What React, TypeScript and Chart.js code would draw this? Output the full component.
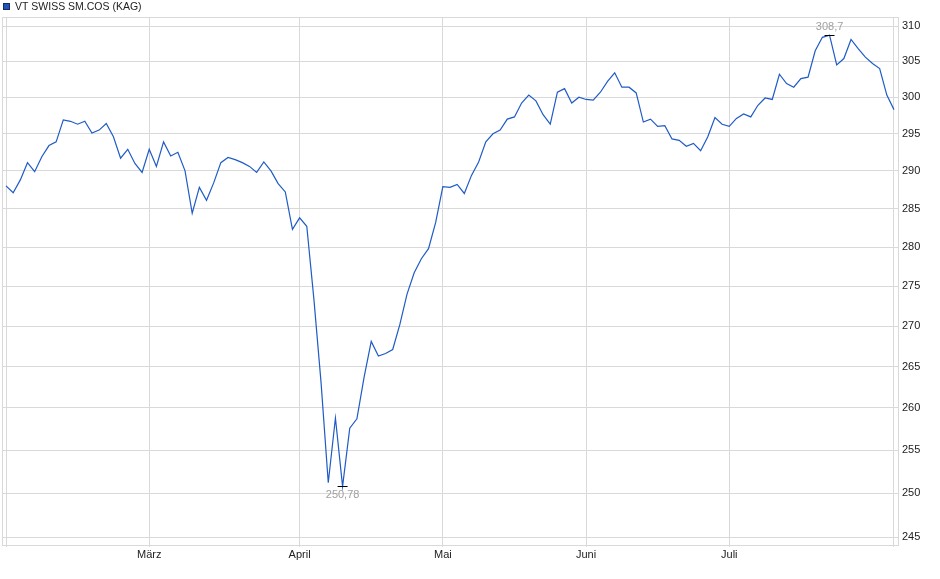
import { useEffect, useRef } from 'react';
import { Chart, registerables } from 'chart.js';

Chart.register(...registerables);

// 数据
const seriesName = 'VT SWISS SM.COS (KAG)';
const values = [
  288.0, 287.1, 288.8, 291.1, 289.9, 291.9, 293.4, 293.9, 296.9, 296.7,
  296.3, 296.7, 295.1, 295.5, 296.4, 294.6, 291.7, 292.9, 291.0, 289.8,
  292.9, 290.6, 293.9, 292.0, 292.5, 290.0, 284.4, 287.8, 286.1, 288.4,
  291.1, 291.8, 291.5, 291.1, 290.6, 289.8, 291.2, 290.0, 288.3, 287.2,
  282.3, 283.8, 282.7, 273.3, 263.0, 251.2, 258.8, 250.78, 257.6, 258.7,
  263.7, 268.1, 266.3, 266.6, 267.1, 270.2, 274.0, 276.7, 278.5, 279.8,
  283.2, 287.9, 287.8, 288.2, 287.0, 289.4, 291.2, 293.9, 295.0, 295.5,
  297.0, 297.3, 299.2, 300.3, 299.5, 297.6, 296.3, 300.7, 301.2, 299.2,
  300.0, 299.7, 299.6, 300.7, 302.2, 303.4, 301.4, 301.4, 300.6, 296.6,
  297.0, 296.0, 296.1, 294.3, 294.1, 293.3, 293.7, 292.7, 294.6, 297.2,
  296.3, 296.0, 297.1, 297.7, 297.3, 298.9, 299.9, 299.7, 303.2, 301.9,
  301.4, 302.6, 302.8, 306.5, 308.4, 308.7, 304.5, 305.4, 308.1, 306.8,
  305.6, 304.7, 304.0, 300.3, 298.3,
];
const monthTicks = [0, 20, 41, 61, 81, 101, 124]; // 月初所在的交易日序号
const monthLabels = ['', 'März', 'April', 'Mai', 'Juni', 'Juli', ''];
const yTicks = [245, 250, 255, 260, 265, 270, 275, 280, 285, 290, 295, 300, 305, 310];

const FONT = '"Liberation Sans", Arial, sans-serif';
const LINE_COLOR = '#1f5bc6';
const GRID_COLOR = '#d9d9d9';

// 绘图区边框 + 图例
const framePlugin = {
  id: 'frame',
  beforeDatasetsDraw(chart: any) {
    const { ctx, chartArea: a } = chart;
    ctx.save();
    ctx.strokeStyle = GRID_COLOR;
    ctx.lineWidth = 1;
    ctx.strokeRect(Math.round(a.left) + 0.5, Math.round(a.top) + 0.5, Math.round(a.right - a.left), Math.round(a.bottom - a.top));
    ctx.restore();
  },
  afterDraw(chart: any) {
    const { ctx } = chart;
    ctx.save();
    ctx.fillStyle = '#1d55bd';
    ctx.fillRect(3, 3, 7, 7);
    ctx.strokeStyle = '#1a2a5a';
    ctx.lineWidth = 1;
    ctx.strokeRect(3.5, 3.5, 6, 6);
    ctx.fillStyle = '#222';
    ctx.font = '10.5px ' + FONT;
    ctx.textBaseline = 'middle';
    ctx.textAlign = 'left';
    ctx.fillText(chart.data.datasets[0].label, 15, 7);
    ctx.restore();
  },
};

// 最高 / 最低点标注
const extremesPlugin = {
  id: 'extremes',
  afterDatasetsDraw(chart: any) {
    const { ctx, scales } = chart;
    const data: number[] = values;
    let hi = 0;
    let lo = 0;
    data.forEach((v, i) => {
      if (v > data[hi]) hi = i;
      if (v < data[lo]) lo = i;
    });
    const fmt = (v: number) => String(v).replace('.', ',');
    ctx.save();
    ctx.font = '11px ' + FONT;
    ctx.textAlign = 'center';
    [[hi, -1], [lo, 1]].forEach(([i, dir]) => {
      const x = scales.x.getPixelForValue(i);
      const y = Math.round(scales.y.getPixelForValue(data[i])) + 0.5;
      ctx.strokeStyle = '#000';
      ctx.lineWidth = 1;
      ctx.beginPath();
      ctx.moveTo(x - 5, y);
      ctx.lineTo(x + 5, y);
      ctx.stroke();
      ctx.fillStyle = '#a0a0a0';
      ctx.textBaseline = dir < 0 ? 'bottom' : 'top';
      ctx.fillText(fmt(data[i]), x, y + dir * 3);
    });
    ctx.restore();
  },
};

export default function App() {
  const canvasRef = useRef<HTMLCanvasElement>(null);

  useEffect(() => {
    if (!canvasRef.current) return;
    const chart = new Chart(canvasRef.current, {
      type: 'line',
      data: {
        datasets: [{
          label: seriesName,
          data: values.map((v, i) => ({ x: i, y: v })),
          borderColor: LINE_COLOR,
          backgroundColor: LINE_COLOR,
          borderWidth: 1.2,
          pointRadius: 0,
          tension: 0,
          fill: false,
        }],
      },
      options: {
        animation: false,
        responsive: true,
        maintainAspectRatio: false,
        layout: { padding: { top: 17, left: 2, right: 0, bottom: 0 } },
        plugins: {
          legend: { display: false },
          tooltip: { enabled: false },
        },
        scales: {
          x: {
            type: 'linear',
            min: -0.56,
            max: 124.56,
            afterBuildTicks: (scale: any) => {
              scale.ticks = monthTicks.map(v => ({ value: v }));
            },
            afterFit: (scale: any) => { scale.height = 34; },
            grid: { color: GRID_COLOR, tickLength: 2, drawTicks: true },
            border: { color: GRID_COLOR },
            ticks: {
              autoSkip: false,
              maxRotation: 0,
              padding: 1,
              color: '#222',
              font: { family: FONT, size: 11 },
              callback: (value: any) => monthLabels[monthTicks.indexOf(Number(value))] ?? '',
            },
          },
          y: {
            type: 'logarithmic',
            position: 'right',
            min: 244.1,
            max: 311.3,
            afterBuildTicks: (scale: any) => {
              scale.ticks = yTicks.map(v => ({ value: v }));
            },
            afterFit: (scale: any) => { scale.width = 42; },
            grid: { color: GRID_COLOR, drawTicks: false },
            border: { color: GRID_COLOR },
            ticks: {
              padding: 4,
              color: '#222',
              font: { family: FONT, size: 11 },
              callback: (value: any) => String(value),
            },
          },
        },
      },
      plugins: [framePlugin, extremesPlugin],
    });
    return () => chart.destroy();
  }, []);

  return (
    <div style={{ position: 'fixed', left: 0, top: 0, width: 940, height: 579, background: '#fff' }}>
      <canvas ref={canvasRef}></canvas>
    </div>
  );
}
